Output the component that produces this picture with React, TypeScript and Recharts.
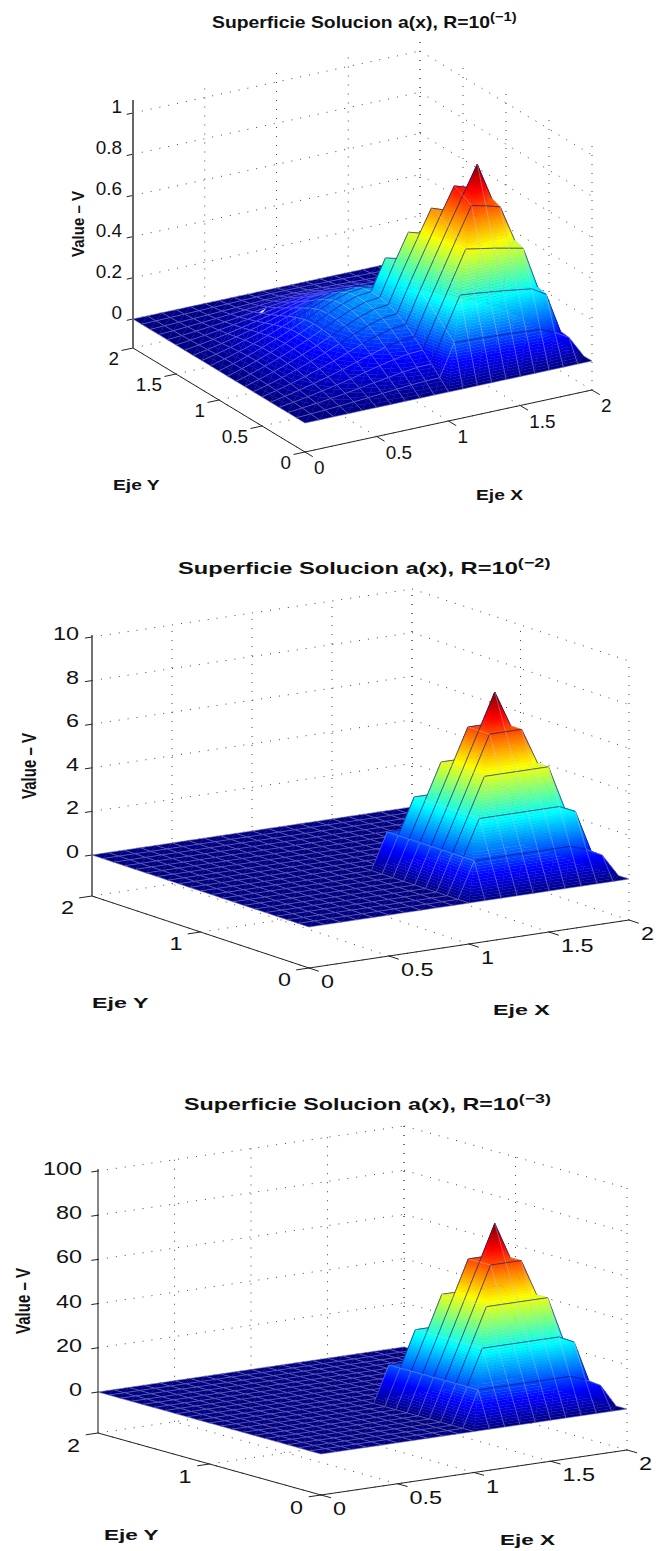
import React from 'react';
import { ComposedChart, XAxis, YAxis, Scatter, ReferenceLine } from 'recharts';

// ---------- data ----------
const gridCoords = [0, 0.1, 0.2, 0.3, 0.4, 0.5, 0.6, 0.7, 0.8, 0.9, 1, 1.1, 1.2, 1.3, 1.4, 1.5, 1.6, 1.7, 1.8, 1.9, 2];
// pyramid in percent of its height; rows y = 0..1, columns x = 1..2
const pyramidRows = [
  [0, 0, 0, 0, 0, 0, 0, 0, 0, 0, 0],
  [0, 20, 20, 20, 20, 20, 20, 20, 17, 12.5, 0],
  [0, 20, 40, 40, 40, 40, 40, 40, 36, 12.5, 0],
  [0, 20, 40, 60, 60, 60, 60, 60, 36, 12.5, 0],
  [0, 20, 40, 60, 80, 80, 80, 60, 36, 12.5, 0],
  [0, 20, 40, 60, 80, 100, 80, 60, 36, 12.5, 0],
  [0, 20, 40, 60, 80, 80, 80, 60, 36, 12.5, 0],
  [0, 20, 40, 60, 60, 60, 60, 60, 36, 12.5, 0],
  [0, 20, 40, 40, 40, 40, 40, 40, 36, 12.5, 0],
  [0, 20, 20, 20, 20, 20, 20, 20, 17, 12.5, 0],
  [0, 0, 0, 0, 0, 0, 0, 0, 0, 0, 0],
];
// broad hump of the first surface, as two profiles
const humpProfileX = [0, 0.08, 0.17, 0.27, 0.38, 0.5, 0.63, 0.76, 0.88, 0.97, 1, 0.97, 0.9, 0.82, 0.72, 0.62, 0.5, 0.38, 0.26, 0.13, 0];
const humpProfileY = [0, 0.17, 0.33, 0.49, 0.64, 0.77, 0.88, 0.95, 0.99, 1, 0.97, 0.88, 0.76, 0.63, 0.5, 0.38, 0.27, 0.18, 0.1, 0.05, 0];
const humpHeights = [0.26, 0, 0];
const pyramidHeights = [0.78, 8.3, 82];
const peakValues = [0.91, 8.3, 82];
const xTicks = [0, 0.5, 1, 1.5, 2];
const yTicks = [[0, 0.5, 1, 1.5, 2], [0, 1, 2], [0, 1, 2]];
const zTicks = [[0, 0.2, 0.4, 0.6, 0.8, 1], [0, 2, 4, 6, 8, 10], [0, 20, 40, 60, 80, 100]];
const titleExponents = ['(−1)', '(−2)', '(−3)'];

// ---------- layout ----------
const frames = [
  { top: 0, height: 517, o: [305, 452], ex: [287, -62], ey: [-172, -104], zs: 206, z0: 29, zTop: 248, zAxisW: 2, zAxisC: '#666', darkZ: 0.15,
    tf: 1.21, titleX: 212, titleY: 28, tickFx: 1.08, tickSize: 17.5, zRight: 122, zDy: -6, xDx: 9, xDy: 16, yDx: -14, yDy: 11,
    vx: 84, vy: 224, vf: 1.15, ey1: [113, 490], ex1: [476, 500], labelF: 1.28 },
  { top: 517, height: 523, o: [309, 968], ex: [320, -48], ey: [-217, -72], zs: 21.8, z0: 41, zTop: 261, zAxisW: 1.5, zAxisC: '#444', darkZ: 1.25,
    tf: 1.48, titleX: 178, titleY: 574, tickFx: 1.3, tickSize: 18, zRight: 79, zDy: -3, xDx: 12, xDy: 14, yDx: -18, yDy: 12,
    vx: 36, vy: 766, vf: 1.35, ey1: [92, 1008], ex1: [493, 1015], labelF: 1.55 },
  { top: 1040, height: 511, o: [321, 1495], ex: [306, -45], ey: [-223, -62], zs: 2.21, z0: 41, zTop: 264, zAxisW: 1, zAxisC: '#111', darkZ: 12.3,
    tf: 1.457, titleX: 184, titleY: 1110, tickFx: 1.3, tickSize: 18, zRight: 82, zDy: -2, xDx: 12, xDy: 14, yDx: -18, yDy: 13,
    vx: 30, vy: 1301, vf: 1.35, ey1: [104, 1540], ex1: [500, 1545], labelF: 1.5 },
];

const FONT = '"Liberation Sans", Arial, sans-serif';

function jet(t: number) {
  const c = (v: number) => Math.round(255 * Math.max(0, Math.min(1, v)));
  return `rgb(${c(Math.min(4 * t - 1.5, -4 * t + 4.5))},${c(Math.min(4 * t - 0.5, -4 * t + 3.5))},${c(Math.min(4 * t + 0.5, -4 * t + 2.5))})`;
}

function heightAt(p: number, i: number, j: number) {
  const hump = humpHeights[p] * humpProfileX[i] * humpProfileY[j];
  const inside = i >= 10 && j <= 10;
  return hump + (inside ? (pyramidRows[j][i - 10] / 100) * pyramidHeights[p] : 0);
}

function project(p: number, x: number, y: number, z: number, floor = false) {
  const f = frames[p];
  return [
    f.o[0] + (x / 2) * f.ex[0] + (y / 2) * f.ey[0],
    f.o[1] + (x / 2) * f.ex[1] + (y / 2) * f.ey[1] - (floor ? 0 : f.z0 + z * f.zs),
  ];
}

type Poly = { d: string; fill: string };
type Cell = { x: number; y: number; polys: Poly[]; edges: { d: string; stroke: string; w: number }[] };
type V = { pt: number[]; z: number };

const fmt = (pts: number[][]) => pts.map((q) => q[0].toFixed(2) + ',' + q[1].toFixed(2)).join(' ');
const mix = (a: V, b: V, z: number) => {
  const t = b.z === a.z ? 0 : (z - a.z) / (b.z - a.z);
  return [a.pt[0] + (b.pt[0] - a.pt[0]) * t, a.pt[1] + (b.pt[1] - a.pt[1]) * t];
};

// one facet of the surface, cut into bands of equal height for the colour map
function facet(tri: V[], zMax: number, zs: number, out: Poly[]) {
  const [A, B, C] = [...tri].sort((m, n) => m.z - n.z);
  const n = Math.max(1, Math.ceil(((C.z - A.z) * zs) / 2.5));
  if (n === 1) {
    out.push({ d: fmt([A.pt, B.pt, C.pt]), fill: jet((A.z + B.z + C.z) / 3 / zMax) });
    return;
  }
  const q = (z: number) => (z < B.z ? mix(A, B, z) : mix(B, C, z));
  for (let k = 0; k < n; k++) {
    const z1 = k === 0 ? A.z : A.z + ((C.z - A.z) * k) / n;
    const z2 = k === n - 1 ? C.z : A.z + ((C.z - A.z) * (k + 1)) / n;
    const pts = [mix(A, C, z1), q(z1)];
    if (z1 < B.z && B.z < z2) pts.push(B.pt);
    pts.push(q(z2), mix(A, C, z2));
    out.push({ d: fmt(pts), fill: jet((z1 + z2) / 2 / zMax) });
  }
}

function buildCells(p: number): Cell[] {
  const f = frames[p];
  const zMax = peakValues[p];
  const cells: Cell[] = [];
  const light = 'rgba(205,205,235,0.5)';
  const dark = 'rgba(20,20,120,0.7)';
  const line = (a: number[], b: number[]) => `M${a[0].toFixed(2)} ${a[1].toFixed(2)}L${b[0].toFixed(2)} ${b[1].toFixed(2)}`;
  for (let j = gridCoords.length - 2; j >= 0; j--) {
    for (let i = gridCoords.length - 2; i >= 0; i--) {
      const x0 = gridCoords[i], x1 = gridCoords[i + 1], y0 = gridCoords[j], y1 = gridCoords[j + 1];
      const z00 = heightAt(p, i, j), z10 = heightAt(p, i + 1, j), z01 = heightAt(p, i, j + 1), z11 = heightAt(p, i + 1, j + 1);
      const v00 = { pt: project(p, x0, y0, z00), z: z00 };
      const v10 = { pt: project(p, x1, y0, z10), z: z10 };
      const v01 = { pt: project(p, x0, y1, z01), z: z01 };
      const v11 = { pt: project(p, x1, y1, z11), z: z11 };
      const polys: Poly[] = [];
      facet([v00, v11, v01], zMax, f.zs, polys);
      facet([v00, v10, v11], zMax, f.zs, polys);
      const highA = (z00 + z10) / 2 > f.darkZ;
      const highB = (z01 + z11) / 2 > f.darkZ;
      const edges = [
        { d: line(v01.pt, v11.pt), stroke: highB ? dark : light, w: highB ? 0.8 : 0.55 },
        { d: line(v10.pt, v11.pt), stroke: light, w: 0.55 },
        { d: line(v00.pt, v01.pt), stroke: light, w: 0.55 },
        { d: line(v00.pt, v10.pt), stroke: highA ? dark : light, w: highA ? 0.8 : 0.55 },
      ];
      const centre = project(p, (x0 + x1) / 2, (y0 + y1) / 2, (z00 + z10 + z01 + z11) / 4);
      cells.push({ x: centre[0], y: centre[1], polys, edges });
    }
  }
  return cells;
}

type Seg = { a: number[]; b: number[] };

function wallSegments(p: number): Seg[] {
  const f = frames[p];
  const segs: Seg[] = [];
  const up = (pt: number[], h: number) => [pt[0], pt[1] - h];
  const floorPt = (x: number, y: number) => project(p, x, y, 0, true);
  for (const x of xTicks) {
    segs.push({ a: floorPt(x, 0), b: floorPt(x, 2) });
    if (x > 0) segs.push({ a: floorPt(x, 2), b: up(floorPt(x, 2), f.zTop) });
  }
  for (const y of yTicks[p]) {
    segs.push({ a: floorPt(0, y), b: floorPt(2, y) });
    segs.push({ a: floorPt(2, y), b: up(floorPt(2, y), f.zTop) });
  }
  for (const z of zTicks[p]) {
    const h = f.z0 + z * f.zs;
    segs.push({ a: up(floorPt(0, 2), h), b: up(floorPt(2, 2), h) });
    segs.push({ a: up(floorPt(2, 2), h), b: up(floorPt(2, 0), h) });
  }
  return segs;
}

function axisSegments(p: number): Seg[] {
  const f = frames[p];
  const segs: Seg[] = [];
  const floorPt = (x: number, y: number) => project(p, x, y, 0, true);
  const corner = floorPt(0, 2);
  segs.push({ a: floorPt(0, 0), b: floorPt(2, 0) });
  segs.push({ a: floorPt(0, 0), b: corner });
  for (const x of xTicks) {
    const s = floorPt(x, 0);
    segs.push({ a: s, b: [s[0] - 0.045 * f.ey[0], s[1] - 0.045 * f.ey[1]] });
  }
  for (const y of yTicks[p]) {
    const s = floorPt(0, y);
    segs.push({ a: s, b: [s[0] - 0.04 * f.ex[0], s[1] - 0.04 * f.ex[1]] });
  }
  for (const z of zTicks[p]) {
    const s = [corner[0], corner[1] - f.z0 - z * f.zs];
    segs.push({ a: s, b: [s[0] - 0.022 * f.ex[0], s[1] - 0.022 * f.ex[1]] });
  }
  return segs;
}

type Lab = { x: number; y: number; text: string; anchor: string; fx: number; size: number; bold: boolean; rot?: boolean; exp?: string };

function labels(p: number): Lab[] {
  const f = frames[p];
  const out: Lab[] = [];
  const floorPt = (x: number, y: number) => project(p, x, y, 0, true);
  for (const x of xTicks) {
    const s = floorPt(x, 0);
    out.push({ x: s[0] + f.xDx, y: s[1] + f.xDy + 6, text: String(x), anchor: 'start', fx: f.tickFx, size: f.tickSize, bold: false });
  }
  for (const y of yTicks[p]) {
    const s = floorPt(0, y);
    out.push({ x: s[0] + f.yDx, y: s[1] + f.yDy + 6, text: String(y), anchor: 'end', fx: f.tickFx, size: f.tickSize, bold: false });
  }
  const corner = floorPt(0, 2);
  for (const z of zTicks[p]) {
    out.push({ x: f.zRight, y: corner[1] - f.z0 - z * f.zs + f.zDy + 6, text: String(z), anchor: 'end', fx: f.tickFx, size: f.tickSize, bold: false });
  }
  out.push({ x: f.titleX, y: f.titleY, text: 'Superficie Solucion a(x), R=10', anchor: 'start', fx: f.tf, size: 16, bold: true, exp: titleExponents[p] });
  out.push({ x: f.ey1[0], y: f.ey1[1], text: 'Eje Y', anchor: 'start', fx: f.labelF, size: 15, bold: true });
  out.push({ x: f.ex1[0], y: f.ex1[1], text: 'Eje X', anchor: 'start', fx: f.labelF, size: 15, bold: true });
  out.push({ x: f.vx, y: f.vy, text: 'Value – V', anchor: 'middle', fx: f.vf, size: 15, bold: true, rot: true });
  return out;
}

// ---------- shapes ----------
const CellShape = (props: any) => {
  const c: Cell = props.payload;
  return (
    <g transform={`translate(${props.cx - c.x},${props.cy - c.y})`}>
      {c.polys.map((q, k) => (
        <polygon key={k} points={q.d} fill={q.fill} stroke={q.fill} strokeWidth={0.35} />
      ))}
      {c.edges.map((e, k) => (
        <path key={k} d={e.d} stroke={e.stroke} strokeWidth={e.w} fill="none" />
      ))}
    </g>
  );
};

const LabelShape = (props: any) => {
  const l: Lab = props.payload;
  const transform = l.rot
    ? `translate(${props.cx},${props.cy}) rotate(-90) scale(1,${l.fx})`
    : `translate(${props.cx},${props.cy}) scale(${l.fx},1)`;
  return (
    <text transform={transform} textAnchor={l.anchor} fontFamily={FONT} fontSize={l.size} fontWeight={l.bold ? 700 : 400} fill="#111">
      {l.text}
      {l.exp ? (
        <tspan dy={-7} fontSize={12.2}>
          {l.exp}
        </tspan>
      ) : null}
    </text>
  );
};

function Panel({ p }: { p: number }) {
  const f = frames[p];
  const cells = buildCells(p);
  const walls = wallSegments(p);
  const axes = axisSegments(p);
  const labs = labels(p);
  const corner = project(p, 0, 2, 0, true);
  return (
    <ComposedChart width={660} height={f.height} margin={{ top: 0, right: 0, bottom: 0, left: 0 }} style={{ display: 'block' }}>
      <XAxis type="number" dataKey="x" domain={[0, 660]} hide allowDataOverflow />
      <YAxis type="number" dataKey="y" domain={[f.top, f.top + f.height]} reversed hide allowDataOverflow width={0} />
      {walls.map((s, k) => (
        <ReferenceLine
          key={'w' + k}
          segment={[{ x: s.a[0], y: s.a[1] }, { x: s.b[0], y: s.b[1] }]}
          stroke="#444"
          strokeWidth={1}
          strokeDasharray="1 8"
          ifOverflow="visible"
        />
      ))}
      {axes.map((s, k) => (
        <ReferenceLine
          key={'a' + k}
          segment={[{ x: s.a[0], y: s.a[1] }, { x: s.b[0], y: s.b[1] }]}
          stroke="#222"
          strokeWidth={1}
          ifOverflow="visible"
        />
      ))}
      <ReferenceLine
        segment={[{ x: corner[0], y: corner[1] }, { x: corner[0], y: corner[1] - f.zTop }]}
        stroke={f.zAxisC}
        strokeWidth={f.zAxisW}
        ifOverflow="visible"
      />
      <Scatter data={cells} dataKey="y" shape={CellShape} isAnimationActive={false} />
      <Scatter data={labs} dataKey="y" shape={LabelShape} isAnimationActive={false} />
    </ComposedChart>
  );
}

export default function App() {
  return (
    <div style={{ position: 'absolute', left: 0, top: 0, width: 660, height: 1551, background: '#fff' }}>
      {frames.map((_, p) => (
        <Panel key={p} p={p} />
      ))}
    </div>
  );
}
